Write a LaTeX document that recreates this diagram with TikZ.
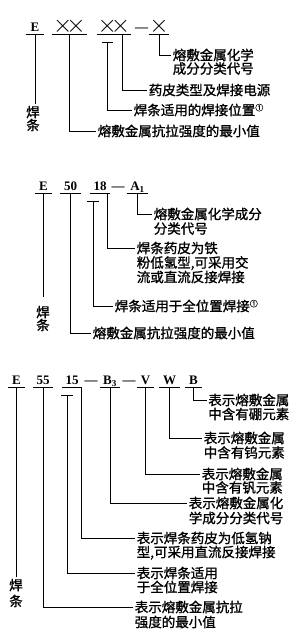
\documentclass[tikz,border=0pt]{standalone}
\usepackage{fontspec}
\setmainfont{Liberation Serif}
\newfontfamily\cjk{Noto Sans CJK SC}[FakeBold=1.2]
\usetikzlibrary{calc}
\newcommand\crx{\raisebox{-0.5pt}{\fontsize{25}{25}\selectfont$\times$}}
\newcommand\circone{\raisebox{4.5pt}{\fontsize{8}{8}\selectfont ①}}
\begin{document}
\begin{tikzpicture}[x=1pt,y=-1pt,line width=0.6pt,
  code/.style={font=\fontsize{13}{13}\selectfont\bfseries, inner xsep=0pt, inner ysep=2.5pt, text depth=0pt, anchor=base},
  lab/.style={font=\cjk\fontsize{13.5}{14}\selectfont, anchor=west, inner xsep=1.5pt, inner ysep=0pt, text height=11.9pt, text depth=1.6pt},
  hz/.style={font=\cjk\fontsize{13.5}{14}\selectfont, inner sep=1pt, text height=11.9pt, text depth=1.6pt}]
\useasboundingbox (0,0) rectangle (307,637);

% ---------- section 1 ----------
\node[code,minimum width=18] (a1) at (35,31.5) {E};
\node[code,minimum width=35] (a2) at (69.5,31.5) {\crx\kern-6pt\crx};
\node[code,minimum width=34] (a3) at (114,31.5) {\crx\kern-6pt\crx};
\node[code] (d11) at (141.5,31.5) {—};
\node[code,minimum width=20] (a4) at (159,31.5) {\crx};
\foreach \n in {a1,a2,a3,a4} \draw (\n.south west) -- (\n.south east);
\coordinate (sb1) at (107.5,42);
\draw ($(sb1)+(-5.5,0)$) -- ($(sb1)+(5.5,0)$);

\node[lab] (t11) at (171,55) {熔敷金属化学};
\node[lab] (t11b) at (171,68.5) {成分分类代号};
\node[lab] (t12) at (147,90) {药皮类型及焊接电源};
\node[lab] (t13) at (132,110) {焊条适用的焊接位置\circone};
\node[lab] (t14) at (96,131) {熔敷金属抗拉强度的最小值};
\node[hz] (h1) at (33,112) {焊};
\node[hz] (h1b) at (33,125) {条};

\draw (a4.south) |- (t11.west);
\draw ($(a3.south)+(8,0)$) |- (t12.west);
\draw (sb1) |- (t13.west);
\draw (a2.south) |- (t14.west);
\draw (a1.south) -- (a1.south |- h1.north);

% ---------- section 2 ----------
\node[code,minimum width=17] (b1) at (43.5,190.5) {E};
\node[code,minimum width=21] (b2) at (70.5,190.5) {50};
\node[code,minimum width=20] (b3) at (100,190.5) {18};
\node[code] (d21) at (118,190.5) {—};
\node[code,minimum width=21] (b4) at (137.5,190.5) {A\textsubscript{1}};
\foreach \n in {b1,b2,b3,b4} \draw (\n.south west) -- (\n.south east);
\coordinate (sb2) at (93,201);
\draw ($(sb2)+(-6,0)$) -- ($(sb2)+(6,0)$);

\node[lab] (t21) at (152,214) {熔敷金属化学成分};
\node[lab] (t21b) at (152,228.5) {分类代号};
\node[lab] (t22) at (135,248) {焊条药皮为铁};
\node[lab] (t22b) at (135,262.5) {粉低氢型,可采用交};
\node[lab] (t22c) at (135,277) {流或直流反接焊接};
\node[lab] (t23) at (113,306) {焊条适用于全位置焊接\circone};
\node[lab] (t24) at (91,333) {熔敷金属抗拉强度的最小值};
\node[hz] (h2) at (43,312) {焊};
\node[hz] (h2b) at (43,325) {条};

\draw (b4.south) |- (t21.west);
\draw ($(b3.south)+(7,0)$) |- (t22.west);
\draw (sb2) |- (t23.west);
\draw (b2.south) |- (t24.west);
\draw[shorten >=7pt] (b1.south) -- (b1.south |- h2.north);

% ---------- section 3 ----------
\node[code,minimum width=17] (c1) at (16.5,384.5) {E};
\node[code,minimum width=20] (c2) at (43,384.5) {55};
\node[code,minimum width=20] (c3) at (72,384.5) {15};
\node[code] (d31) at (91,384.5) {—};
\node[code,minimum width=20] (c4) at (110,384.5) {B\textsubscript{3}};
\node[code] (d32) at (129,384.5) {—};
\node[code,minimum width=17] (c5) at (145.5,384.5) {V};
\node[code,minimum width=21] (c6) at (169.5,384.5) {W};
\node[code,minimum width=17] (c7) at (193.5,384.5) {B};
\foreach \n in {c1,c2,c3,c4,c5,c6,c7} \draw (\n.south west) -- (\n.south east);
\coordinate (sb3) at (67,395);
\draw ($(sb3)+(-6,0)$) -- ($(sb3)+(6,0)$);

\node[lab] (t31) at (206.5,400) {表示熔敷金属};
\node[lab] (t31b) at (206.5,414) {中含有硼元素};
\node[lab] (t32) at (202,438) {表示熔敷金属};
\node[lab] (t32b) at (202,452.5) {中含有钨元素};
\node[lab] (t33) at (200,474) {表示熔敷金属};
\node[lab] (t33b) at (200,487.5) {中含有钒元素};
\node[lab] (t34) at (187,503) {表示熔敷金属化};
\node[lab] (t34b) at (187,518) {学成分分类代号};
\node[lab] (t35) at (135,538) {表示焊条药皮为低氢钠};
\node[lab] (t35b) at (135,552) {型,可采用直流反接焊接};
\node[lab] (t36) at (135,573) {表示焊条适用};
\node[lab] (t36b) at (135,587) {于全位置焊接};
\node[lab] (t37) at (133,607) {表示熔敷金属抗拉};
\node[lab] (t37b) at (133,622) {强度的最小值};
\node[hz] (h3) at (16,585) {焊};
\node[hz] (h3b) at (16,601) {条};

\draw (c7.south) |- (t31.west);
\draw (c6.south) |- (t32.west);
\draw (c5.south) |- (t33.west);
\draw (c4.south) |- (t34.west);
\draw ($(c3.south)+(9,0)$) |- (t35.west);
\draw (sb3) |- (t36.west);
\draw (c2.south) |- (t37.west);
\draw (c1.south) -- (c1.south |- h3.north);
\end{tikzpicture}
\end{document}
